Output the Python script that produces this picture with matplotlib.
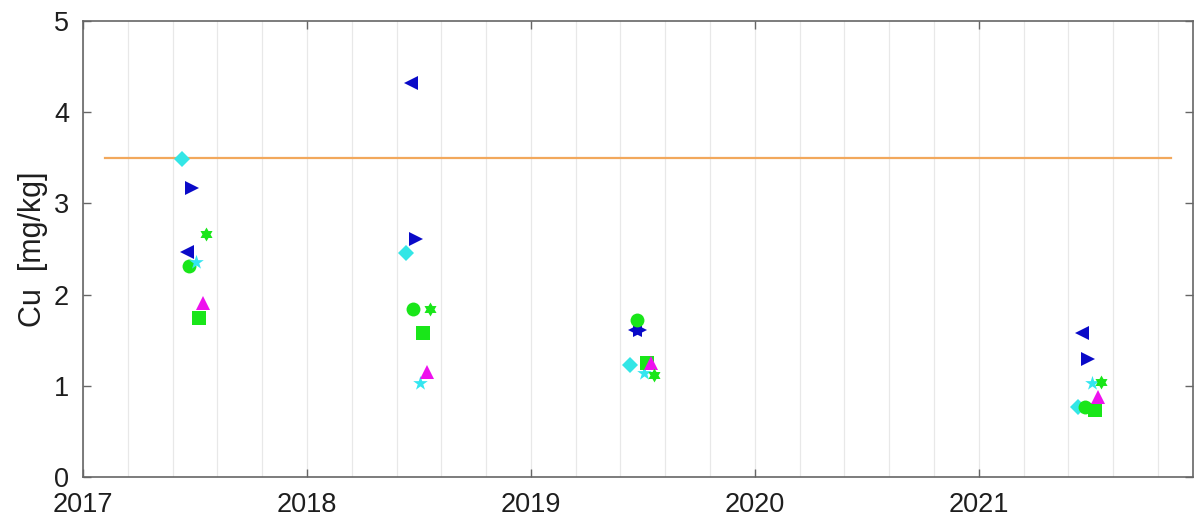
import numpy as np
import matplotlib.pyplot as plt
from matplotlib.path import Path
from matplotlib.ticker import MultipleLocator

# Sampling campaigns (one per year, no campaign in 2020)
years = [2017, 2018, 2019, 2021]

# Sampling day-of-year per site (sites were visited a few days apart)
doy_diamond = 161
doy_left = 169
doy_circle = 173
doy_right = 178
doy_star = 184
doy_square = 189
doy_tri = 195
doy_hex = 200

# Cu concentration [mg/kg] per site and year
cu_diamond = [3.49, 2.46, 1.23, 0.77]
cu_left = [2.47, 4.32, 1.61, 1.58]
cu_circle = [2.31, 1.84, 1.72, 0.77]
cu_right = [3.17, 2.61, 1.61, 1.29]
cu_star = [2.36, 1.03, 1.14, 1.03]
cu_square = [1.74, 1.58, 1.25, 0.73]
cu_tri = [1.91, 1.15, 1.25, 0.88]
cu_hex = [2.66, 1.84, 1.12, 1.04]

# Limit value
limit_value = 3.5
limit_start = 2017.1
limit_end = 2021.86

x_min, x_max = 2017.0, 2021.955
y_min, y_max = 0, 5

plt.rcParams['font.family'] = ['Liberation Sans', 'DejaVu Sans']
TXT = '#1e1e1e'

fig = plt.figure(figsize=(11.95, 5.2), dpi=100)
ax = fig.add_axes([0.0695, 0.0827, 0.9285, 0.8769])


def dates(doy):
    return [y + doy / 365.0 for y in years]


def star_path(n, inner):
    # n-pointed star outline, outer radius 1
    ang = np.pi / 2 + np.arange(2 * n) * np.pi / n
    rad = np.where(np.arange(2 * n) % 2 == 0, 1.0, inner)
    verts = np.column_stack([rad * np.cos(ang), rad * np.sin(ang)])
    verts = np.vstack([verts, verts[:1]])
    codes = [Path.MOVETO] + [Path.LINETO] * (2 * n - 1) + [Path.CLOSEPOLY]
    return Path(verts, codes)


pentagram = star_path(5, 0.382)
hexagram = star_path(6, 0.577)

series = [
    (doy_diamond, cu_diamond, 'D', '#33e6e6', 8),
    (doy_left, cu_left, '<', '#0a0ac8', 10.5),
    (doy_right, cu_right, '>', '#0a0ac8', 10.5),
    (doy_circle, cu_circle, 'o', '#19e619', 10),
    (doy_star, cu_star, pentagram, '#33e6f0', 11),
    (doy_square, cu_square, 's', '#19e619', 10),
    (doy_tri, cu_tri, '^', '#ee11ee', 10.5),
    (doy_hex, cu_hex, hexagram, '#19e619', 10),
]

ax.plot([limit_start, limit_end], [limit_value, limit_value],
        color='#f2a85c', lw=1.6, zorder=2)

for doy, vals, mk, col, ms in series:
    ax.plot(dates(doy), vals, linestyle='none', marker=mk, color=col,
            markersize=ms, markeredgewidth=0, zorder=3)

ax.set_xlim(x_min, x_max)
ax.set_ylim(y_min, y_max)

ax.xaxis.set_major_locator(MultipleLocator(1))
ax.xaxis.set_minor_locator(MultipleLocator(0.2))
ax.xaxis.set_major_formatter(lambda v, p: f'{int(round(v))}')
ax.yaxis.set_major_locator(MultipleLocator(1))

ax.grid(True, axis='x', which='both', color='#e8e8e8', lw=0.9, zorder=0)
ax.set_axisbelow(True)

ax.tick_params(axis='both', which='major', direction='in', length=6,
               width=1, color='#666666', labelsize=19.5, labelcolor=TXT,
               top=True, right=True)
ax.tick_params(axis='x', which='minor', length=0, top=True)
ax.tick_params(axis='x', pad=11)
ax.tick_params(axis='y', pad=10)

for sp in ax.spines.values():
    sp.set_color('#666666')
    sp.set_linewidth(1.2)

ax.set_ylabel('Cu  [mg/kg]', fontsize=22, color=TXT, labelpad=4)

fig.savefig('out.png', dpi=100)
